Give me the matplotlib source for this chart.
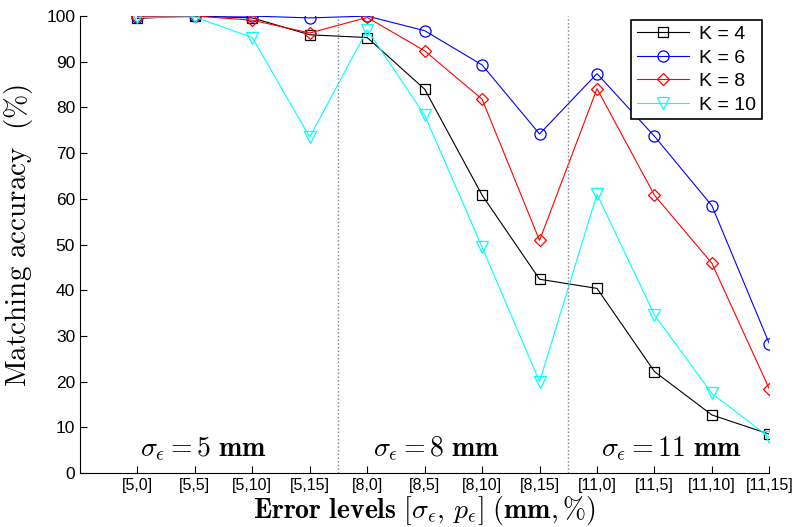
import matplotlib
matplotlib.use('Agg')
import matplotlib.pyplot as plt
import numpy as np

plt.rcParams['mathtext.fontset'] = 'cm'
plt.rcParams['font.family'] = ['Liberation Sans', 'DejaVu Sans']

levels = ['[5,0]', '[5,5]', '[5,10]', '[5,15]', '[8,0]', '[8,5]', '[8,10]', '[8,15]',
          '[11,0]', '[11,5]', '[11,10]', '[11,15]']
k4 = [99.5, 100, 99.6, 95.9, 95.3, 84.0, 60.8, 42.4, 40.4, 22.2, 12.7, 8.5]
k6 = [99.8, 100, 100, 99.6, 100, 96.8, 89.3, 74.2, 87.4, 73.7, 58.5, 28.3]
k8 = [99.8, 100, 99.1, 96.3, 99.7, 92.4, 81.8, 50.9, 84.1, 60.8, 45.9, 18.4]
k10 = [99.7, 99.8, 95.3, 73.5, 97.0, 78.3, 49.4, 20.0, 61.0, 34.6, 17.4, 7.8]

groups = [r'$\sigma_\epsilon = 5\ \mathbf{mm}$', r'$\sigma_\epsilon = 8\ \mathbf{mm}$',
          r'$\sigma_\epsilon = 11\ \mathbf{mm}$']

x = np.arange(1, len(levels) + 1)

fig = plt.figure(figsize=(7.96, 5.27), dpi=100)
ax = fig.add_axes([0.1005, 0.1025, 0.866, 0.867])

ax.plot(x, k4, 'k-s', mfc='none', ms=6.5, lw=0.8, mew=0.9, label='K = 4')
ax.plot(x, k6, 'b-o', mfc='none', ms=8, lw=0.8, mew=0.9, label='K = 6')
ax.plot(x, k8, 'r-D', mfc='none', ms=6.5, lw=0.8, mew=0.9, label='K = 8')
ax.plot(x, k10, '-v', color='#00ffff', mfc='none', ms=9, lw=0.8, mew=0.9, label='K = 10')

for xv in [4.5, 8.5]:
    ax.plot([xv, xv], [0, 100], ':', color='gray', lw=1)

for xc, txt in zip([2.15, 6.2, 10.3], groups):
    ax.text(xc, 5.2, txt, ha='center', va='center', fontsize=20)

ax.set_xlim(0, 12)
ax.set_ylim(0, 100)
ax.set_xticks(x)
ax.set_xticklabels(levels, fontsize=11.5)
ax.set_yticks(np.arange(0, 101, 10))
ax.tick_params(axis='y', labelsize=12.5)
ax.tick_params(direction='in', length=5)
ax.spines['top'].set_visible(False)
ax.spines['right'].set_visible(False)

ax.set_xlabel(r'$\mathbf{Error\ levels}\ [\sigma_\epsilon,\, p_\epsilon]\ \mathbf{(mm,}\%\mathbf{)}$',
              fontsize=20, labelpad=1)
ax.set_ylabel(r'$\mathrm{Matching\ accuracy\ \ (\%)}$', fontsize=21)
ax.yaxis.set_label_coords(-0.066, 0.52)

leg = ax.legend(loc='upper right', bbox_to_anchor=(1.003, 1.013), fontsize=14,
                fancybox=False, edgecolor='k', framealpha=1, handlelength=2.7,
                borderpad=0.3, labelspacing=0.3, handletextpad=0.5)
leg.get_frame().set_linewidth(1.2)

fig.savefig('out.png', dpi=100)
